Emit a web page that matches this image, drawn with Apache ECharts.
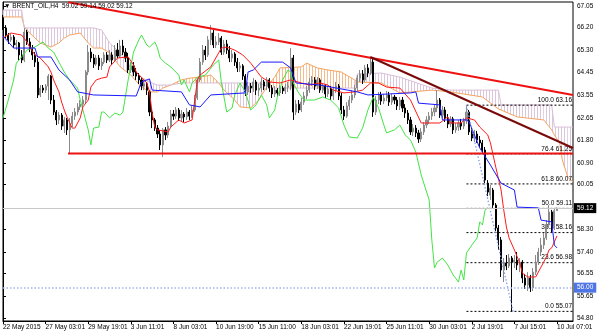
<!DOCTYPE html>
<html><head><meta charset="utf-8">
<script src="https://cdn.jsdelivr.net/npm/echarts@6/dist/echarts.min.js"></script>
<style>html,body{margin:0;padding:0;background:#fff}#c{width:600px;height:333px}</style>
</head><body><div id="c"></div>
<script>
const SLOTS = 215;
const xTickLabels = ['22 May 2015','27 May 03:01','29 May 19:01','3 Jun 11:01','8 Jun 03:01','10 Jun 19:00','15 Jun 11:00','18 Jun 03:01','22 Jun 19:01','25 Jun 11:01','30 Jun 03:01','2 Jul 19:01','7 Jul 15:01','10 Jul 07:01'];
const yTickValues = [54.80,55.65,56.55,57.40,58.30,60.05,60.90,61.80,62.65,63.55,64.45,65.30,66.20,67.05];
const symbolTitle = '\u25BC BRENT_OIL,H4  59.02 59.14 59.02 59.12';
// [open, close, low, high]
const ohlc = [
[66.58,66.19,66.11,66.70],[66.19,65.91,65.79,66.30],[65.91,65.72,65.56,65.99],[65.72,65.83,65.64,65.95],[65.83,65.52,65.40,65.91],
[65.52,65.60,65.32,65.72],[65.60,65.13,64.93,65.64],[65.13,64.93,64.81,65.32],[64.93,66.03,64.85,66.19],[66.03,65.64,65.52,66.11],
[65.64,65.40,65.24,65.79],[65.40,65.13,64.93,65.52],[65.13,64.85,64.66,65.24],[64.85,63.56,63.44,65.01],[63.56,63.83,63.48,63.95],
[63.83,63.75,63.64,63.95],[63.75,63.91,63.64,63.99],[63.91,64.30,63.36,64.38],[64.30,63.36,63.20,64.34],[63.36,62.89,62.77,63.56],
[62.89,62.58,62.38,62.97],[62.58,62.77,62.42,62.89],[62.77,62.34,62.19,62.85],[62.34,62.58,62.07,62.70],[62.58,62.19,61.99,62.66],
[62.19,62.42,61.25,62.66],[62.42,62.73,62.30,62.89],[62.73,62.89,62.58,63.05],[62.89,63.09,62.77,63.24],[63.09,63.20,62.97,63.36],
[63.20,63.36,63.05,63.52],[63.36,64.46,63.24,64.54],[64.46,65.24,64.34,65.52],[65.24,65.01,64.85,65.40],[65.01,64.77,64.62,65.17],
[64.77,65.01,64.70,65.13],[65.01,64.70,64.54,65.13],[64.70,64.85,64.54,65.01],[64.85,65.13,64.77,65.24],[65.13,64.93,64.81,65.24],
[64.93,65.13,64.85,65.32],[65.13,64.93,64.74,65.24],[64.93,65.32,64.85,65.52],[65.32,65.09,65.01,65.60],[65.09,65.48,65.01,65.72],
[65.48,65.24,65.13,65.72],[65.24,65.01,64.85,65.40],[65.01,64.54,64.42,65.21],[64.54,64.70,64.42,64.85],[64.70,64.46,64.30,64.85],
[64.46,64.30,64.15,64.62],[64.30,64.15,63.99,64.42],[64.15,63.91,63.75,64.22],[63.91,63.99,63.75,64.15],[63.99,63.75,63.56,64.07],
[63.68,62.89,62.73,63.75],[62.89,62.58,62.26,63.05],[62.58,62.26,62.15,62.66],[62.26,62.03,61.87,62.38],[62.03,61.60,61.40,62.19],
[61.60,62.19,61.13,62.26],[62.19,61.99,61.79,62.30],[61.99,62.34,61.87,62.50],[62.34,62.81,62.26,62.97],[62.81,62.73,62.58,62.97],
[62.73,62.97,62.62,63.09],[62.97,62.66,62.54,63.05],[62.66,62.81,62.54,62.97],[62.81,62.70,62.50,62.89],[62.70,62.89,62.58,63.05],
[62.89,62.73,62.58,62.97],[62.73,62.97,62.66,63.13],[62.97,63.44,62.89,63.56],[63.44,64.15,63.36,64.22],[64.15,64.85,64.07,65.01],
[64.85,65.32,64.74,65.52],[65.32,65.13,64.93,65.48],[65.13,65.72,65.05,65.87],[65.72,65.99,65.52,66.30],[65.99,65.52,65.40,66.11],
[65.52,65.64,65.40,65.87],[65.64,65.79,65.52,65.99],[65.79,65.24,65.13,65.87],[65.24,65.56,65.13,65.72],[65.56,65.32,65.17,65.72],
[65.32,65.01,64.85,65.48],[65.01,65.17,64.85,65.32],[65.17,64.85,64.70,65.24],[64.85,64.62,64.46,65.01],[64.62,64.70,64.46,64.85],
[64.70,64.30,64.15,64.77],[64.30,63.68,63.52,64.38],[63.68,63.91,63.56,64.07],[63.91,63.83,63.64,64.03],[63.83,64.07,63.68,64.22],
[64.07,63.75,63.56,64.15],[63.75,63.83,63.52,63.99],[63.83,64.07,63.68,64.22],[64.07,63.91,63.75,64.15],[63.91,64.15,63.75,64.26],
[64.15,63.83,63.68,64.22],[63.83,63.60,63.44,63.95],[63.60,63.75,63.48,63.91],[63.75,63.64,63.48,63.83],[63.64,63.83,63.52,63.95],
[63.83,63.72,63.60,63.91],[63.72,63.87,63.60,63.99],[63.87,63.91,63.68,64.07],[63.91,65.01,63.75,65.40],[65.01,62.89,62.58,65.13],
[62.89,63.20,62.77,63.36],[63.20,62.97,62.85,63.36],[62.97,63.28,62.89,63.44],[63.28,63.52,63.17,63.68],[63.52,63.75,63.40,63.91],
[63.75,64.07,63.64,64.22],[64.07,64.15,63.91,64.30],[64.15,63.91,63.75,64.26],[63.91,64.15,63.79,64.26],[64.15,63.75,63.64,64.22],
[63.75,63.91,63.64,64.03],[63.91,63.60,63.44,63.99],[63.60,63.79,63.48,63.91],[63.79,63.52,63.36,63.91],[63.52,63.75,63.36,63.87],
[63.75,63.91,63.64,64.07],[63.91,63.52,63.36,63.99],[63.52,62.97,62.81,63.64],[62.97,62.73,62.58,63.13],[62.73,63.13,62.66,63.28],
[63.13,63.36,62.97,63.52],[63.36,63.56,63.24,63.75],[63.56,63.83,63.44,63.95],[63.83,64.22,63.72,64.34],[64.22,64.38,64.07,64.54],
[64.38,64.15,63.99,64.54],[64.15,64.62,64.07,64.74],[64.62,64.42,64.26,64.77],[64.42,64.85,64.34,65.05],[64.85,62.89,62.70,65.01],
[62.89,63.36,62.77,63.52],[63.36,63.56,63.20,63.68],[63.56,63.32,63.17,63.68],[63.32,63.44,63.20,63.60],[63.44,63.56,63.32,63.72],
[63.56,63.28,63.13,63.68],[63.28,63.48,63.17,63.60],[63.48,63.36,63.20,63.56],[63.36,63.13,62.97,63.48],[63.13,63.36,62.97,63.48],
[63.36,63.05,62.89,63.48],[63.05,62.85,62.66,63.20],[62.85,62.58,62.42,62.97],[62.58,62.11,61.99,62.70],[62.11,62.26,61.95,62.42],
[62.26,62.07,61.91,62.38],[62.07,61.83,61.68,62.19],[61.83,62.11,61.71,62.26],[62.11,62.38,61.99,62.50],[62.38,62.58,62.26,62.73],
[62.58,62.73,62.42,62.89],[62.73,62.89,62.58,63.05],[62.89,63.05,62.73,63.20],[63.05,63.36,62.89,63.75],[63.36,62.77,62.66,63.44],
[62.77,62.97,62.66,63.13],[62.97,62.66,62.50,63.09],[62.66,62.42,62.26,62.81],[62.42,62.62,62.30,62.73],[62.62,62.19,62.03,62.70],
[62.19,62.30,62.07,62.46],[62.30,62.46,62.15,62.58],[62.46,62.34,62.19,62.62],[62.34,62.54,62.22,62.66],[62.54,62.89,62.42,63.16],
[62.89,62.11,61.99,62.97],[62.11,61.87,61.75,62.26],[61.87,62.03,61.71,62.19],[62.03,61.79,61.68,62.15],[61.79,61.68,61.52,61.95],
[61.68,61.40,61.28,61.79],[61.40,60.22,60.10,61.52],[60.10,59.75,59.59,60.22],[59.63,59.91,59.44,60.03],[59.83,59.24,59.13,59.91],
[59.24,58.34,58.22,59.32],[58.34,57.87,57.48,58.46],[57.87,56.69,56.42,57.99],[56.69,56.97,56.22,57.16],[56.97,56.85,56.69,57.28],
[56.85,57.16,56.77,57.32],[57.16,57.00,55.07,57.24],[57.00,57.08,56.77,57.28],[57.08,56.89,56.69,57.40],[56.89,57.00,56.61,57.16],
[57.00,56.38,56.18,57.08],[56.38,56.10,55.95,56.54],[56.10,56.38,55.87,56.61],[56.38,55.99,55.83,56.50],[55.99,56.61,55.87,56.77],
[56.61,57.00,56.50,57.28],[57.00,57.40,56.89,57.56],[57.40,57.67,57.24,57.95],[57.67,57.95,57.52,58.14],[57.95,58.46,57.87,58.65],
[58.46,58.97,58.34,59.24],[58.97,58.34,58.18,59.05],[58.34,59.02,58.26,59.13],[59.02,59.12,59.02,59.14]
];
// Ichimoku lines: [bar index, price]
const tenkan = [[0,65.79],[3,65.99],[7,65.91],[9,65.64],[10,65.44],[12,65.13],[14,65.01],[17,64.66],[18,64.46],[19,64.15],[21,63.68],[22,63.28],[23,62.97],[24,62.70],[26,62.26],[27,62.26],[29,62.66],[30,63.09],[32,63.36],[33,63.87],[35,64.15],[37,64.22],[39,64.26],[40,64.66],[43,65.01],[47,65.05],[49,64.74],[50,64.46],[54,64.03],[55,63.68],[56,62.85],[57,62.30],[58,62.19],[62,62.11],[63,62.30],[66,62.58],[68,62.46],[71,62.58],[72,63.36],[73,64.15],[74,64.34],[78,64.66],[82,65.40],[84,65.44],[87,65.32],[90,65.13],[93,64.81],[97,64.26],[100,64.07],[104,64.03],[108,64.15],[112,64.03],[115,63.95],[119,64.03],[122,63.95],[124,63.75],[128,63.64],[132,63.68],[135,63.75],[138,64.03],[141,64.03],[144,63.87],[149,63.83],[153,63.36],[157,62.46],[164,62.46],[167,62.70],[168,62.46],[172,62.46],[174,62.66],[177,62.58],[179,62.30],[182,61.99],[183,61.68],[185,60.73],[187,59.83],[188,59.05],[189,58.38],[190,57.95],[192,57.48],[194,56.97],[195,56.57],[197,56.42],[200,56.42],[202,56.81],[204,57.20],[205,57.48],[206,57.56],[208,58.03]];
const kijun = [[0,65.87],[2,65.64],[4,65.40],[12,65.40],[13,65.05],[18,65.05],[21,64.54],[25,64.15],[28,63.68],[34,63.56],[50,63.52],[52,64.07],[55,64.19],[56,63.75],[67,63.68],[70,63.17],[74,63.09],[78,63.56],[91,63.64],[92,64.46],[94,64.54],[97,64.85],[105,64.85],[108,64.62],[110,64.03],[119,63.95],[133,63.68],[137,63.56],[153,63.64],[155,63.68],[156,63.24],[164,63.17],[165,62.58],[174,62.58],[175,62.50],[179,61.48],[183,60.81],[187,60.10],[192,59.83],[193,59.16],[201,59.13],[202,58.65],[206,58.58],[207,57.67],[208,57.56]];
const chikou = [[0,62.66],[2,63.36],[4,64.15],[5,64.81],[7,65.05],[9,65.32],[12,65.44],[15,65.64],[17,65.40],[19,65.24],[21,64.85],[23,64.46],[25,64.15],[28,63.83],[29,63.36],[30,62.97],[31,62.58],[32,62.19],[33,61.60],[34,62.26],[36,62.30],[37,62.89],[38,62.89],[40,62.66],[42,62.85],[44,62.77],[45,62.89],[47,64.15],[49,65.24],[51,65.72],[52,65.91],[54,65.52],[55,65.44],[57,65.64],[58,65.40],[59,65.01],[61,64.81],[63,64.66],[66,64.34],[67,63.95],[68,64.15],[70,63.68],[71,64.03],[73,64.26],[76,64.34],[79,64.74],[81,64.93],[82,64.03],[84,62.89],[86,63.05],[87,63.56],[89,64.03],[91,63.68],[93,62.97],[95,63.17],[97,63.56],[99,63.17],[100,62.66],[102,62.97],[103,63.48],[105,64.15],[107,64.54],[108,64.46],[109,64.03],[111,63.64],[113,63.36],[117,63.36],[120,63.48],[123,63.36],[126,63.05],[128,62.38],[130,61.91],[133,61.87],[135,62.26],[137,62.97],[139,63.48],[141,63.05],[143,62.38],[144,62.07],[147,62.19],[149,62.38],[151,61.99],[153,61.79],[155,61.32],[157,60.42],[160,59.44],[161,57.87],[162,56.77],[163,57.00],[165,57.16],[167,56.89],[169,56.50],[171,56.22],[172,56.69],[173,56.30],[174,57.36],[176,57.67],[178,57.95],[179,58.58],[180,58.46],[181,59.05],[182,59.13]];
const cloudIdx = [0,7,8,10,14,18,21,23,25,29,32,34,37,40,44,48,52,55,58,60,63,67,70,74,78,81,83,87,89,93,96,99,102,104,112,114,118,122,127,132,133,142,149,161,168,180,186,187,193,203,206,207,209,210,212,214];
const spanA = [66.62,66.62,66.23,65.99,65.60,65.44,65.60,65.79,65.91,65.99,65.60,65.40,65.40,65.21,64.66,64.34,63.87,63.68,63.68,63.83,63.95,64.15,64.22,64.26,64.34,64.03,63.75,63.36,63.09,63.05,63.36,63.87,64.26,64.62,64.66,64.81,64.62,64.54,64.46,64.15,64.07,64.03,63.64,63.75,63.68,63.48,63.01,62.97,62.70,62.58,62.19,61.99,61.68,61.01,60.34,60.15];
const spanB = [66.89,66.89,66.19,66.19,66.19,66.19,66.19,66.19,66.19,66.19,66.19,66.19,66.11,65.60,65.21,64.66,64.26,64.07,63.95,63.95,63.95,64.03,64.03,64.03,64.03,64.03,64.03,64.03,64.03,64.03,64.03,63.91,63.83,63.83,63.83,63.83,63.83,63.83,63.83,63.83,64.38,64.42,64.26,63.83,63.75,63.75,63.75,63.17,63.17,63.17,63.17,62.30,62.30,62.30,62.30,62.30];
const upperTrend = [[24.5,67.20],[214,63.56]];
const maroonTrend = [[137.9,65.05],[214,61.48]];
const supportLine = [[24.4,61.26],[214,61.26]];
const fibNames = ['0.0','23.6','38.2','50.0','61.8','76.4','100.0'];
const fibPrices = [55.07,56.98,58.16,59.11,60.07,61.25,63.16];
const fibAnchors = [[174,63.16],[191.5,55.07]];
const fibEnd = 214;
const lastPrice = 59.12;
const alertPrice = 56.00;

function hatch(color){const c=document.createElement('canvas');c.width=3;c.height=4;const x=c.getContext('2d');x.fillStyle=color;x.fillRect(0,0,1,4);return {image:c,repeat:'repeat'};}
const hatchUp = hatch('#f5bb8a'), hatchDn = hatch('#dcc6dc');
const cats = Array.from({length:SLOTS},(_,i)=>String(i));
const FONT = 'Liberation Sans';

const chart = echarts.init(document.getElementById('c'));
chart.setOption({
  animation:false,
  backgroundColor:'#fff',
  grid:{left:2,right:27,top:2,bottom:12,show:true,borderColor:'#000',borderWidth:1,backgroundColor:'transparent'},
  xAxis:[{type:'category',data:cats,boundaryGap:false,
    axisLine:{lineStyle:{color:'#000'}},
    axisTick:{show:true,length:3,interval:(i)=>i%16===0,lineStyle:{color:'#000'}},
    axisLabel:{interval:(i)=>i%16===0,formatter:(v,i)=>xTickLabels[i/16]||'',fontSize:6.5,fontFamily:FONT,color:'#000',align:'left',margin:3},
    splitLine:{show:false}},
   {type:'value',min:0,max:SLOTS-1,show:false}],
  yAxis:{type:'value',position:'right',min:54.692,max:67.207,scale:true,
    axisLine:{show:true,lineStyle:{color:'#000'}},
    axisTick:{show:true,length:3,customValues:yTickValues,lineStyle:{color:'#000'}},
    axisLabel:{customValues:yTickValues,formatter:(v)=>v.toFixed(2),fontSize:6.5,fontFamily:FONT,color:'#000',margin:4},
    splitLine:{show:false}},
  graphic:[{type:'text',left:4,top:3,z:100,style:{text:symbolTitle,font:'6.5px '+FONT,fill:'#000'}}],
  series:[
    {type:'custom',xAxisIndex:1,yAxisIndex:0,z:1,clip:true,silent:true,
     data:cloudIdx.map((x,k)=>[x,spanA[k],spanB[k]]),encode:{x:0,y:1},
     renderItem:(params,api)=>{
       const k=params.dataIndex; if(k>=cloudIdx.length-1) return null;
       const x0=cloudIdx[k],x1=cloudIdx[k+1],a0=spanA[k],a1=spanA[k+1],b0=spanB[k],b1=spanB[k+1];
       const d0=a0-b0,d1=a1-b1; const P=(x,y)=>api.coord([x,y]); const ch=[];
       const poly=(pts,up)=>ch.push({type:'polygon',shape:{points:pts},style:{fill:up?hatchUp:hatchDn}});
       if(d0*d1<0){const t=d0/(d0-d1);const xc=x0+t*(x1-x0),yc=a0+t*(a1-a0);
         poly([P(x0,a0),P(xc,yc),P(x0,b0)],d0>0);poly([P(xc,yc),P(x1,a1),P(x1,b1)],d1>0);}
       else poly([P(x0,a0),P(x1,a1),P(x1,b1),P(x0,b0)],(d0+d1)>0);
       return {type:'group',children:ch};
     }},
    {type:'line',xAxisIndex:1,z:2,data:cloudIdx.map((x,k)=>[x,spanA[k]]),showSymbol:false,lineStyle:{color:'#f4a460',width:1},silent:true},
    {type:'line',xAxisIndex:1,z:2,data:cloudIdx.map((x,k)=>[x,spanB[k]]),showSymbol:false,lineStyle:{color:'#d8bfd8',width:1},silent:true},
    {type:'custom',xAxisIndex:1,yAxisIndex:0,z:3,silent:true,clip:false,
     data:fibPrices.map((p,k)=>[fibAnchors[0][0],p,k]),encode:{x:0,y:1},
     renderItem:(params,api)=>{
       const k=params.dataIndex,p=fibPrices[k];
       const a=api.coord([fibAnchors[0][0],p]),b=api.coord([fibEnd,p]);
       return {type:'group',children:[
         {type:'line',shape:{x1:a[0],y1:a[1],x2:b[0],y2:b[1]},style:{stroke:'#000',lineWidth:1,lineDash:[2,2]}},
         {type:'text',x:b[0]-1,y:a[1]-1.5,style:{text:fibNames[k]+' '+p.toFixed(2),font:'6.5px '+FONT,fill:'#000',align:'right',verticalAlign:'bottom'}}]};
     }},
    {type:'candlestick',xAxisIndex:0,z:3,data:ohlc,barWidth:1.6,
     itemStyle:{color:'#9a9a9a',color0:'#000',borderColor:'#8a8a8a',borderColor0:'#000',borderWidth:1}},
    {type:'line',xAxisIndex:1,z:4,data:chikou,showSymbol:false,lineStyle:{color:'#44e444',width:1}},
    {type:'line',xAxisIndex:1,z:4,data:tenkan,showSymbol:false,lineStyle:{color:'#ff1a1a',width:1}},
    {type:'line',xAxisIndex:1,z:4,data:kijun,showSymbol:false,lineStyle:{color:'#1a1aff',width:1}},
    {type:'line',xAxisIndex:1,z:5,data:fibAnchors,showSymbol:false,lineStyle:{color:'#7f9cf0',width:1.3,type:[1.5,2]}},
    {type:'line',xAxisIndex:1,z:6,data:upperTrend,showSymbol:false,lineStyle:{color:'#ee1111',width:2}},
    {type:'line',xAxisIndex:1,z:6,data:maroonTrend,showSymbol:false,lineStyle:{color:'#7a0a0a',width:2}},
    {type:'line',xAxisIndex:1,z:6,data:supportLine,showSymbol:false,lineStyle:{color:'#ee1111',width:2}},
    {type:'line',xAxisIndex:1,z:2,data:[],
     markLine:{silent:true,symbol:'none',animation:false,z:8,
       data:[
        {yAxis:lastPrice,lineStyle:{color:'#c8c8c8',width:1,type:'solid'},
         label:{show:true,position:'end',formatter:lastPrice.toFixed(2),backgroundColor:'#000',color:'#fff',fontSize:6.5,fontFamily:FONT,padding:[2,3,1,3],distance:1}},
        {yAxis:alertPrice,lineStyle:{color:'#9fb3f0',width:1.5,type:[1.5,2]},
         label:{show:true,position:'end',formatter:alertPrice.toFixed(2),backgroundColor:'#4f74e3',color:'#fff',fontSize:6.5,fontFamily:FONT,padding:[2,3,1,3],distance:1}}]}}
  ]
});
</script></body></html>
